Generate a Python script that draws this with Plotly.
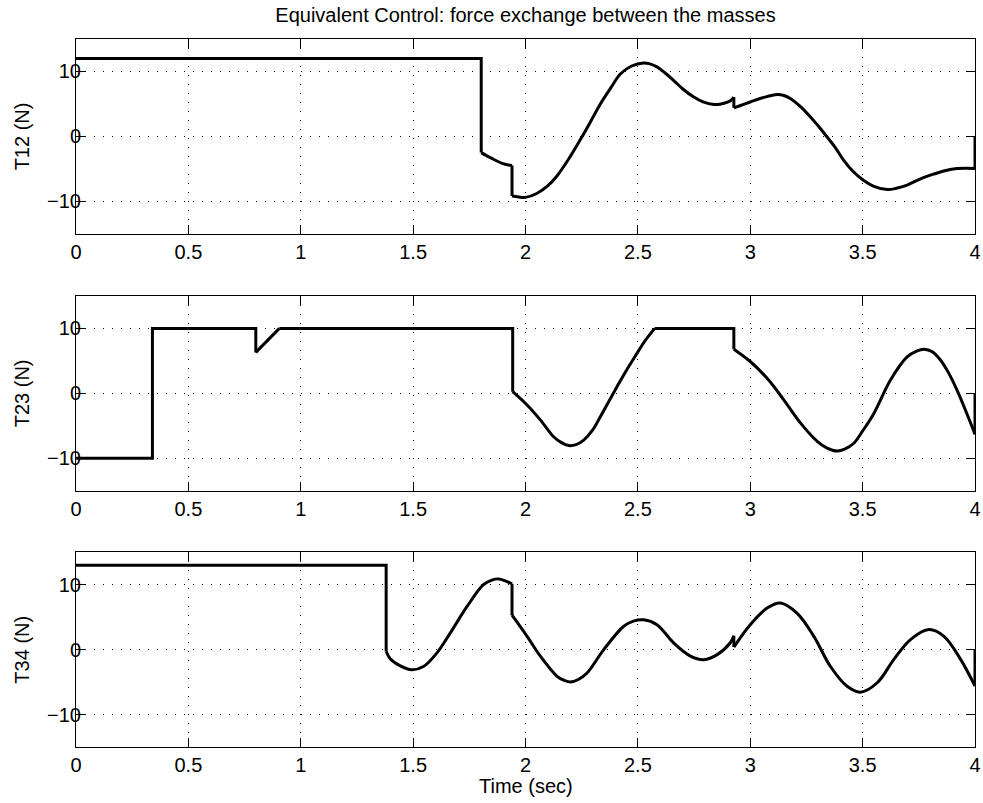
import plotly.graph_objects as go

# ---- data ----
t12 = [0, 1.803, 1.803, 1.85, 1.90, 1.94, 1.94, 1.97, 2.0, 2.05, 2.10, 2.14, 2.19, 2.244, 2.29,
       2.333, 2.38, 2.422, 2.47, 2.526, 2.55, 2.585, 2.62, 2.66, 2.70, 2.749, 2.79, 2.838, 2.87,
       2.912, 2.927, 2.927, 2.96, 3.0, 3.06, 3.12, 3.15, 3.18, 3.22, 3.268, 3.30, 3.342, 3.38,
       3.416, 3.46, 3.505, 3.55, 3.61, 3.65, 3.698, 3.76, 3.817, 3.87, 3.92, 3.96, 4.0, 4.0]
T12 = [12, 12, -2.5, -3.4, -4.2, -4.5, -9.2, -9.35, -9.4, -8.8, -7.6, -6.1, -3.6, -0.5, 2.3,
       5.0, 7.5, 9.6, 10.8, 11.3, 11.2, 10.7, 9.8, 8.6, 7.3, 6.05, 5.3, 4.9, 5.0,
       5.5, 6.05, 4.4, 4.8, 5.3, 6.0, 6.45, 6.3, 5.8, 4.7, 3.0, 1.7, -0.1, -1.8,
       -3.7, -5.5, -6.8, -7.7, -8.2, -8.0, -7.5, -6.5, -5.8, -5.25, -4.95, -4.9, -4.95, 0]

t23 = [0, 0.34, 0.34, 0.80, 0.80, 0.905, 1.943, 1.943, 2.007, 2.066, 2.125, 2.16, 2.192, 2.225,
       2.259, 2.30, 2.333, 2.37, 2.407, 2.45, 2.496, 2.53, 2.575, 2.927, 2.927, 3.0, 3.075,
       3.149, 3.224, 3.298, 3.34, 3.387, 3.42, 3.461, 3.50, 3.55, 3.624, 3.698, 3.74, 3.773,
       3.81, 3.847, 3.88, 3.92, 3.96, 4.0, 4.0]
T23 = [-10, -10, 10, 10, 6.3, 10, 10, 0.25, -1.8, -4.1, -6.7, -7.6, -8.05, -7.9,
       -7.2, -5.6, -3.6, -1.3, 1.0, 3.6, 6.15, 8.0, 10, 10, 6.8, 4.9, 2.3,
       -1.0, -4.6, -7.4, -8.4, -8.9, -8.6, -7.7, -5.8, -3.1, 2.05, 5.6, 6.5, 6.8,
       6.4, 5.1, 3.3, 0.5, -2.8, -6.3, 0]

t34 = [0, 1.38, 1.38, 1.398, 1.443, 1.494, 1.546, 1.606, 1.665, 1.74, 1.813, 1.85, 1.88, 1.91,
       1.94, 1.94, 2.007, 2.066, 2.14, 2.17, 2.2, 2.235, 2.274, 2.348, 2.437, 2.48, 2.526,
       2.585, 2.66, 2.734, 2.793, 2.853, 2.912, 2.927, 2.927, 3.0, 3.075, 3.134, 3.209, 3.283,
       3.357, 3.431, 3.49, 3.565, 3.639, 3.713, 3.795, 3.862, 3.936, 4.0, 4.0]
T34 = [13, 13, -0.25, -1.4, -2.5, -3.1, -2.6, -0.5, 2.55, 6.65, 10.0, 10.7, 10.9, 10.6,
       10.15, 5.3, 2.05, -1.0, -4.1, -4.7, -5.0, -4.6, -3.6, 0, 3.6, 4.4, 4.6,
       3.85, 1.0, -1.0, -1.55, -0.77, 1.1, 2.15, 0.4, 3.85, 6.4, 7.2, 5.6, 2.05,
       -2.6, -5.65, -6.55, -5.1, -1.5, 1.55, 3.1, 2.05, -1.5, -5.6, 0]

ylabels = ["T12 (N)", "T23 (N)", "T34 (N)"]
title = "Equivalent Control: force exchange between the masses"
xlabel = "Time (sec)"

FONT = "Liberation Sans, Arial, Helvetica, sans-serif"
W, H = 983, 803
ML, MR, MT, MB = 76, 8, 38.5, 55.5
ph = H - MT - MB
domains = [[1 - 195 / ph, 1], [1 - (257.3 + 195) / ph, 1 - 257.3 / ph], [0, 195 / ph]]
FS = 20


def split_runs(t, y):
    """Split a polyline into straight runs (jumps / flats) and curved runs."""
    runs = []
    cur, kind = [0], None
    for i in range(len(t) - 1):
        k = "S" if (t[i] == t[i + 1] or y[i] == y[i + 1]) else "C"
        if kind is not None and k != kind:
            runs.append((kind, cur))
            cur = [i]
        kind = k
        cur.append(i + 1)
    runs.append((kind, cur))
    return runs


fig = go.Figure()
series = [(t12, T12), (t23, T23), (t34, T34)]
for i, (t, v) in enumerate(series):
    sfx = "" if i == 0 else str(i + 1)
    sx, sy, cx, cy = [], [], [], []
    for kind, idx in split_runs(t, v):
        if kind == "S":
            sx += [t[j] for j in idx] + [None]
            sy += [v[j] for j in idx] + [None]
        else:
            cx += [t[j] for j in idx] + [None]
            cy += [v[j] for j in idx] + [None]
    fig.add_trace(go.Scatter(x=sx, y=sy, mode="lines", connectgaps=False,
                             line=dict(color="black", width=3),
                             xaxis="x" + sfx, yaxis="y" + sfx, showlegend=False))
    fig.add_trace(go.Scatter(x=cx, y=cy, mode="lines", connectgaps=False,
                             line=dict(color="black", width=3, shape="spline", smoothing=1),
                             xaxis="x" + sfx, yaxis="y" + sfx, showlegend=False))
    common = dict(showline=True, linecolor="black", linewidth=1, mirror="ticks",
                  ticks="inside", ticklen=9, tickwidth=1, tickcolor="black",
                  showgrid=True, gridcolor="black", gridwidth=1, griddash="1px,8px",
                  zeroline=False, tickfont=dict(family=FONT, size=FS, color="black"))
    fig.layout["xaxis" + sfx] = dict(common, domain=[0, 1], range=[0, 4], tick0=0, dtick=0.5,
                                     anchor="y" + sfx)
    fig.layout["yaxis" + sfx] = dict(common, domain=domains[i], range=[-15, 15], tick0=0,
                                     dtick=10, anchor="x" + sfx, ticklabelstandoff=-10)
    fig.add_annotation(text=ylabels[i], textangle=-90, showarrow=False,
                       xref="paper", x=0, xshift=-(ML - 22), xanchor="center",
                       yref="y" + sfx + " domain", y=0.5, yanchor="middle",
                       font=dict(family=FONT, size=FS, color="black"))

fig.add_annotation(text=xlabel, showarrow=False,
                   xref="x3 domain", x=0.5, xanchor="center",
                   yref="y3 domain", y=0, yshift=-39, yanchor="middle",
                   font=dict(family=FONT, size=FS, color="black"))

fig.update_layout(
    width=W, height=H,
    margin=dict(l=ML, r=MR, t=MT, b=MB, autoexpand=False),
    paper_bgcolor="white", plot_bgcolor="white",
    title=dict(text=title, x=0.5, xref="paper", y=1 - 15 / H, yref="container",
               yanchor="middle", xanchor="center",
               font=dict(family=FONT, size=FS, color="black")),
)

# remove the browser's default 8px body margin so the figure sits at the page origin
fig.write_html("out.html", config={"displayModeBar": False},
               post_script="document.body.style.margin='0px';")
